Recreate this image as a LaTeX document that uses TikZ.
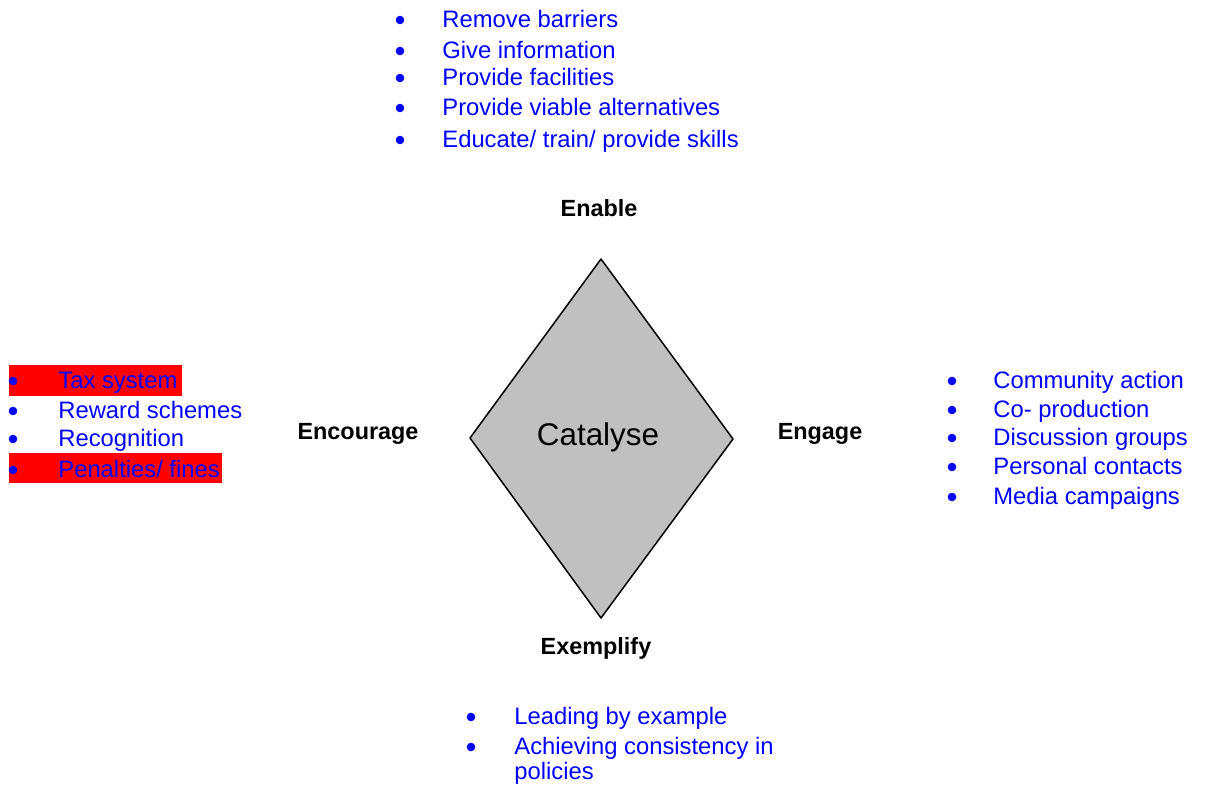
\documentclass[tikz,border=0pt]{standalone}
\usepackage{fontspec}
\setmainfont{Liberation Sans}
\usetikzlibrary{positioning}
\definecolor{itemblue}{RGB}{0,0,255}
\definecolor{hlred}{RGB}{255,0,0}
\definecolor{catgray}{RGB}{192,192,192}
\tikzset{
	x=0.5pt, y=-0.5pt,
	item/.style = {anchor=base west, inner sep=0pt, text=itemblue, font=\fontsize{11.9}{14}\selectfont},
	dot/.style = {circle, fill=itemblue, inner sep=0pt, minimum size=4.3pt},
	head/.style = {anchor=base, inner sep=0pt, font=\fontsize{11.7}{14}\selectfont\bfseries},
	hilite/.style = {fill=hlred, draw=none}
}
\begin{document}
\begin{tikzpicture}
		\useasboundingbox (0,0) rectangle (1205,787);
		
		% Diamond
		\coordinate (top) at (601,259);
		\coordinate (right) at (733,439);
		\coordinate (bottom) at (601,618);
		\coordinate (left) at (470,438);
		\draw[fill=catgray, line width=0.75pt, line join=round] (top) -- (right) -- (bottom) -- (left) -- cycle;
		\node[anchor=base, inner sep=0pt, font=\fontsize{15.7}{18}\selectfont] (cat) at (598,445) {Catalyse};
		
		% Headings
		\node[head] (enable) at (599,216) {Enable};
		\node[head] (encour) at (358,439) {Encourage};
		\node[head] (engage) at (820,439) {Engage};
		\node[head] (exempl) at (596,654) {Exemplify};
		
		% Enable list
		\node[dot] (b-remove) at (400,20) {};
		\node[item] (remove) at (442,27) {Remove barriers};
		\node[dot] (b-give) at (400,51) {};
		\node[item] (give) at (442,58) {Give information};
		\node[dot] (b-facil) at (400,78) {};
		\node[item] (facil) at (442,85) {Provide facilities};
		\node[dot] (b-altern) at (400,108) {};
		\node[item] (altern) at (442,115) {Provide viable alternatives};
		\node[dot] (b-educ) at (400,140) {};
		\node[item] (educ) at (442,147) {Educate/ train/ provide skills};
		
		% Encourage list
		\path[hilite] (9,365) rectangle (182,396);
		\path[hilite] (9,453) rectangle (222,483);
		\node[dot] (b-tax) at (13,381) {};
		\node[item] (tax) at (58,388) {Tax system};
		\node[dot] (b-reward) at (13,411) {};
		\node[item] (reward) at (58,418) {Reward schemes};
		\node[dot] (b-recog) at (13,439) {};
		\node[item] (recog) at (58,446) {Recognition};
		\node[dot] (b-penal) at (13,470) {};
		\node[item] (penal) at (58,477) {Penalties/ fines};
		
		% Engage list
		\node[dot] (b-commun) at (952,381) {};
		\node[item] (commun) at (993,388) {Community action};
		\node[dot] (b-coprod) at (952,410) {};
		\node[item] (coprod) at (993,417) {Co- production};
		\node[dot] (b-discus) at (952,438) {};
		\node[item] (discus) at (993,445) {Discussion groups};
		\node[dot] (b-person) at (952,467) {};
		\node[item] (person) at (993,474) {Personal contacts};
		\node[dot] (b-media) at (952,497) {};
		\node[item] (media) at (993,504) {Media campaigns};
		
		% Exemplify list
		\node[dot] (b-lead) at (471,717) {};
		\node[item] (lead) at (514,724) {Leading by example};
		\node[dot] (b-achiev) at (471,747) {};
		\node[item] (achiev) at (514,754) {Achieving consistency in};
		\node[item] (polic) at (514,779) {policies};
\end{tikzpicture}
\end{document}
